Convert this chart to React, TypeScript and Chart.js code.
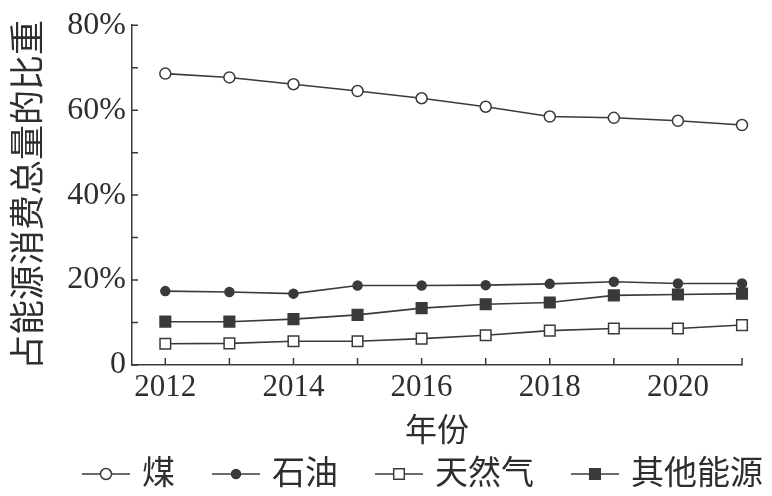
import React, { useEffect, useRef } from "react";
import { Chart, registerables } from "chart.js";

Chart.register(...registerables);

const years = [2012, 2013, 2014, 2015, 2016, 2017, 2018, 2019, 2020, 2021];
const coal = [68.6, 67.7, 66.1, 64.5, 62.8, 60.8, 58.5, 58.2, 57.5, 56.5];
const oil = [17.4, 17.2, 16.8, 18.7, 18.7, 18.8, 19.1, 19.6, 19.2, 19.2];
const gas = [5.0, 5.1, 5.6, 5.6, 6.2, 7.0, 8.1, 8.6, 8.6, 9.4];
const other = [10.2, 10.2, 10.8, 11.8, 13.4, 14.3, 14.7, 16.4, 16.6, 16.8];
const seriesNames = ["煤", "石油", "天然气", "其他能源"];
const yTitle = "占能源消费总量的比重";
const xTitle = "年份";

const INK = "#3a3a3a";
const TEXT = "#2e2e2e";
const FONT = "'Liberation Serif', 'Noto Sans CJK SC', serif";

function drawMarker(ctx: CanvasRenderingContext2D, ds: any, x: number, y: number) {
  ctx.save();
  ctx.lineWidth = ds.pointBorderWidth;
  ctx.strokeStyle = ds.pointBorderColor;
  ctx.fillStyle = ds.pointBackgroundColor;
  ctx.beginPath();
  if (ds.pointStyle === "rect") {
    const s = Math.SQRT1_2 * ds.pointRadius;
    ctx.rect(x - s, y - s, 2 * s, 2 * s);
  } else {
    ctx.arc(x, y, ds.pointRadius, 0, Math.PI * 2);
  }
  ctx.fill();
  ctx.stroke();
  ctx.restore();
}

const innerTicks = {
  id: "innerTicks",
  afterDatasetsDraw(chart: any) {
    const { ctx, chartArea } = chart;
    const xs = chart.scales.x;
    const ys = chart.scales.y;
    ctx.save();
    ctx.strokeStyle = INK;
    ctx.lineWidth = 1.5;
    ctx.beginPath();
    ys.ticks.forEach((t: any) => {
      const py = ys.getPixelForValue(t.value);
      ctx.moveTo(chartArea.left, py);
      ctx.lineTo(chartArea.left + 6, py);
    });
    xs.ticks.forEach((t: any) => {
      const px = xs.getPixelForValue(t.value);
      ctx.moveTo(px, chartArea.bottom);
      ctx.lineTo(px, chartArea.bottom - 7);
    });
    ctx.stroke();
    ctx.restore();
  },
};

const customLegend = {
  id: "customLegend",
  afterDraw(chart: any) {
    const { ctx, chartArea } = chart;
    const y = chart.height - 22;
    const lineLen = 48;
    const textGap = 12;
    const itemGap = 37;
    let x = chartArea.left - 50;
    ctx.save();
    ctx.font = `33px ${FONT}`;
    ctx.textBaseline = "middle";
    ctx.textAlign = "left";
    chart.data.datasets.forEach((ds: any) => {
      ctx.strokeStyle = ds.borderColor;
      ctx.lineWidth = ds.borderWidth;
      ctx.beginPath();
      ctx.moveTo(x, y);
      ctx.lineTo(x + lineLen, y);
      ctx.stroke();
      drawMarker(ctx, ds, x + lineLen / 2, y);
      x += lineLen + textGap;
      ctx.fillStyle = TEXT;
      ctx.fillText(ds.label, x, y + 1);
      x += ctx.measureText(ds.label).width + itemGap;
    });
    ctx.restore();
  },
};

export default function App() {
  const ref = useRef<HTMLCanvasElement | null>(null);

  useEffect(() => {
    if (!ref.current) return;
    const mk = (vals: number[]) => years.map((yr, i) => ({ x: yr, y: vals[i] }));
    const base = {
      borderColor: INK,
      borderWidth: 1.6,
      pointBorderColor: INK,
      pointBorderWidth: 1.5,
      clip: false as any,
      tension: 0,
    };
    const chart = new Chart(ref.current, {
      type: "line",
      data: {
        datasets: [
          { ...base, label: seriesNames[0], data: mk(coal), pointStyle: "circle", pointRadius: 5.5, pointBackgroundColor: "#ffffff" },
          { ...base, label: seriesNames[1], data: mk(oil), pointStyle: "circle", pointRadius: 4.5, pointBackgroundColor: INK },
          { ...base, label: seriesNames[2], data: mk(gas), pointStyle: "rect", pointRadius: 7.5, pointBackgroundColor: "#ffffff" },
          { ...base, label: seriesNames[3], data: mk(other), pointStyle: "rect", pointRadius: 7.5, pointBackgroundColor: INK },
        ] as any,
      },
      options: {
        animation: false,
        responsive: false,
        devicePixelRatio: 1,
        layout: { padding: { left: 0, top: 20, right: 30, bottom: 50 } },
        plugins: { legend: { display: false }, tooltip: { enabled: false } },
        scales: {
          x: {
            type: "linear",
            min: 2011.48,
            max: 2021,
            afterBuildTicks: (axis: any) => {
              axis.ticks = years.map((v) => ({ value: v }));
            },
            afterFit: (scale: any) => {
              scale.height = 81;
            },
            grid: { display: true, drawOnChartArea: false, drawTicks: false },
            border: { display: true, color: INK, width: 1.5 },
            ticks: {
              autoSkip: false,
              maxRotation: 0,
              padding: 4,
              color: TEXT,
              font: { family: FONT, size: 31 },
              callback: (v: any) => (Number(v) % 2 === 0 ? String(v) : ""),
            },
            title: {
              display: true,
              text: xTitle,
              color: TEXT,
              padding: { top: 0, bottom: -3 },
              font: { family: FONT, size: 32, lineHeight: 1 },
            },
          },
          y: {
            min: 0,
            max: 80,
            afterFit: (scale: any) => {
              scale.width = 132;
            },
            grid: { display: true, drawOnChartArea: false, drawTicks: false },
            border: { display: true, color: INK, width: 1.5 },
            ticks: {
              stepSize: 10,
              padding: 6,
              color: TEXT,
              font: { family: FONT, size: 32 },
              callback: (v: any) => {
                const n = Number(v);
                if (n % 20 !== 0) return "";
                return n === 0 ? "0" : `${n}%`;
              },
            },
            title: {
              display: true,
              text: yTitle,
              color: TEXT,
              padding: { top: 10, bottom: 0 },
              font: { family: FONT, size: 35, lineHeight: 1.2 },
            },
          },
        },
      },
      plugins: [innerTicks, customLegend],
    });
    return () => chart.destroy();
  }, []);

  return (
    <div style={{ position: "absolute", left: 0, top: 0, width: 772, height: 496, background: "#fff" }}>
      <canvas ref={ref} width={772} height={496} style={{ width: 772, height: 496 }} />
    </div>
  );
}
